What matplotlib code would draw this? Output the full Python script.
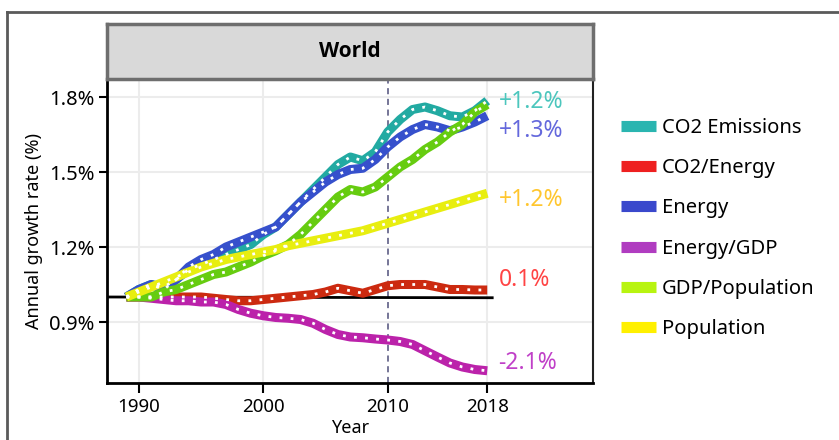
import matplotlib
matplotlib.use("Agg")
import matplotlib.pyplot as plt
from matplotlib.lines import Line2D

plt.rcParams['font.family'] = ['Noto Sans', 'DejaVu Sans']

# Index values (1.0 = base year)
years = list(range(1989, 2019))

co2_emissions = [1.00, 1.03, 1.05, 1.04, 1.07, 1.11, 1.13, 1.15, 1.17, 1.19,
                 1.21, 1.25, 1.28, 1.33, 1.38, 1.43, 1.48, 1.53, 1.56, 1.545,
                 1.58, 1.66, 1.71, 1.75, 1.76, 1.745, 1.725, 1.72, 1.745, 1.785]
co2_energy = [1.00, 1.00, 1.00, 1.00, 1.00, 1.00, 1.00, 0.995, 0.99, 0.985,
              0.985, 0.99, 0.995, 1.00, 1.005, 1.01, 1.02, 1.035, 1.025, 1.015,
              1.03, 1.045, 1.05, 1.05, 1.05, 1.04, 1.03, 1.03, 1.028, 1.028]
energy = [1.00, 1.03, 1.05, 1.03, 1.07, 1.12, 1.15, 1.17, 1.20, 1.22,
          1.24, 1.26, 1.28, 1.33, 1.38, 1.42, 1.46, 1.49, 1.51, 1.515,
          1.55, 1.60, 1.64, 1.67, 1.69, 1.68, 1.665, 1.68, 1.70, 1.725]
energy_gdp = [1.00, 1.00, 0.995, 0.99, 0.985, 0.985, 0.98, 0.98, 0.97, 0.95,
              0.935, 0.925, 0.918, 0.915, 0.91, 0.895, 0.87, 0.85, 0.84, 0.837,
              0.832, 0.828, 0.822, 0.81, 0.785, 0.76, 0.736, 0.72, 0.71, 0.705]
gdp_pop = [1.00, 1.00, 1.00, 1.02, 1.03, 1.05, 1.07, 1.09, 1.10, 1.12,
           1.14, 1.165, 1.185, 1.21, 1.25, 1.30, 1.35, 1.40, 1.43, 1.42,
           1.44, 1.48, 1.52, 1.55, 1.59, 1.62, 1.66, 1.69, 1.74, 1.77]
population = [1.00, 1.02, 1.04, 1.06, 1.08, 1.10, 1.12, 1.135, 1.15, 1.16,
              1.17, 1.18, 1.19, 1.205, 1.215, 1.225, 1.235, 1.245, 1.255, 1.265,
              1.28, 1.295, 1.31, 1.325, 1.34, 1.355, 1.37, 1.385, 1.40, 1.415]

series_names = ["CO2 Emissions", "CO2/Energy", "Energy", "Energy/GDP",
                "GDP/Population", "Population"]
series_values = [co2_emissions, co2_energy, energy, energy_gdp, gdp_pop, population]
line_colors = ["#22aaa2", "#cc2a10", "#3650cc", "#bb22aa", "#66cc10", "#e8ee10"]
legend_colors = ["#2ab5b0", "#ee2020", "#3a48cc", "#b03cc0", "#b8f410", "#fff000"]

# end-of-period growth labels
growth_labels = ["+1.2%", "+1.3%", "+1.2%", "0.1%", "-2.1%"]
growth_y = [1.78, 1.664, 1.388, 1.068, 0.736]
growth_colors = ["#4cc6bd", "#6468dc", "#ffc62e", "#ff4444", "#c040c8"]

ref_x = [1987.4, 2018.4]
ref_y = [1.0, 0.997]

x_ticks = [1990, 2000, 2010, 2018]
y_ticks = [0.9, 1.2, 1.5, 1.8]
y_tick_labels = ["0.9%", "1.2%", "1.5%", "1.8%"]

fig = plt.figure(figsize=(8.39, 4.40), dpi=100)

# outer frame (top and left edges)
fig.add_artist(Line2D([7 / 839, 1.0], [1 - 12 / 440, 1 - 12 / 440],
                      color="#5a5a5a", lw=2, transform=fig.transFigure))
fig.add_artist(Line2D([7 / 839, 7 / 839], [0, 1 - 12 / 440],
                      color="#5a5a5a", lw=2, transform=fig.transFigure))

ax = fig.add_axes([107 / 839, 1 - 383 / 440, 486 / 839, 304 / 440])
ax.set_xlim(1987.44, 2026.5)
ax.set_ylim(0.656, 1.872)

# grid
for xv in [1990, 2000, 2018]:
    ax.axvline(xv, color="#ececec", lw=1.5, zorder=0)
for yv in y_ticks:
    ax.axhline(yv, color="#ececec", lw=1.5, zorder=0)

ax.axvline(2010, color="#50507a", lw=1.1, ls=(0, (4, 3)), zorder=1)
ax.plot(ref_x, ref_y, color="black", lw=2, zorder=2)

for vals, col in zip(series_values, line_colors):
    ax.plot(years, vals, color=col, lw=6.5, solid_capstyle="butt", zorder=3)
    ax.plot(years, vals, color="white", lw=2, ls=(0, (1, 3)), zorder=4)

for lab, yv, col in zip(growth_labels, growth_y, growth_colors):
    ax.text(2018.9, yv, lab, color=col, fontsize=16.5, ha="left", va="center")

ax.set_xticks(x_ticks)
ax.set_xticklabels([str(v) for v in x_ticks], fontsize=13.5)
ax.set_yticks(y_ticks)
ax.set_yticklabels(y_tick_labels, fontsize=14.5)
ax.tick_params(axis="x", length=7, width=1.5, direction="out", pad=4)
ax.tick_params(axis="y", length=6, width=1.5, direction="out", pad=3)
ax.set_xlabel("Year", fontsize=13, labelpad=2)
ax.set_ylabel("Annual growth rate (%)", fontsize=13, labelpad=4)

for side in ["left", "bottom"]:
    ax.spines[side].set_linewidth(2)
    ax.spines[side].set_color("black")
ax.spines["right"].set_linewidth(1.5)
ax.spines["right"].set_color("#222222")
ax.spines["top"].set_visible(False)

# facet strip
strip = fig.add_axes([107 / 839, 1 - 79 / 440, 486 / 839, 55 / 440])
strip.set_facecolor("#d9d9d9")
strip.set_xticks([])
strip.set_yticks([])
for s in strip.spines.values():
    s.set_color("#6e6e6e")
    s.set_linewidth(2.5)
strip.text(0.5, 0.5, "World", ha="center", va="center", fontsize=15,
           fontweight="bold", family=["Open Sans", "DejaVu Sans"],
           transform=strip.transAxes)

handles = [Line2D([], [], color=c, lw=8, solid_capstyle="butt") for c in legend_colors]
fig.legend(handles, series_names, loc="center left",
           bbox_to_anchor=(621 / 839, 1 - 228.5 / 440), frameon=False,
           fontsize=14.5, handlelength=1.74, handletextpad=0.3,
           labelspacing=1.01, borderpad=0, borderaxespad=0)

fig.savefig("out.png", dpi=100)
